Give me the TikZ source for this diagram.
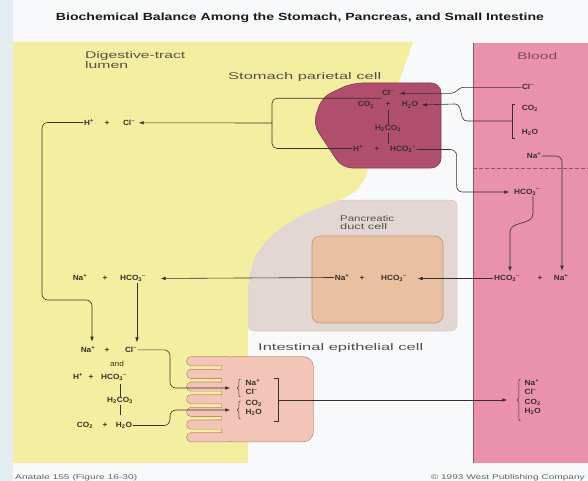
\documentclass[tikz,border=0pt]{standalone}
\usepackage{graphicx}
\usepackage{fontspec}
\setmainfont{Liberation Sans}
\newfontfamily\chemf[FakeStretch=1.1]{Liberation Sans}
\usetikzlibrary{arrows.meta}
\definecolor{bgwhite}{RGB}{248,249,250}
\definecolor{leftstrip}{RGB}{228,238,242}
\definecolor{lumen}{RGB}{244,238,160}
\definecolor{blood}{RGB}{234,146,172}
\definecolor{bloodedge}{RGB}{150,80,100}
\definecolor{parietal}{RGB}{176,78,110}
\definecolor{parietaledge}{RGB}{140,55,85}
\definecolor{pancout}{RGB}{226,215,210}
\definecolor{pancin}{RGB}{233,192,162}
\definecolor{pancedge}{RGB}{190,150,120}
\definecolor{intest}{RGB}{243,196,184}
\definecolor{intestedge}{RGB}{185,135,105}
\definecolor{ink}{RGB}{55,48,40}
\definecolor{labelgrey}{RGB}{85,80,70}
\definecolor{footgrey}{RGB}{100,100,100}
\newcommand{\ionp}{\textsuperscript{+}}
\newcommand{\ionm}{\textsuperscript{\textendash}}
\newcommand{\chs}[1]{\textsubscript{#1}}
\newcommand{\fitto}[3]{\resizebox{#1}{#2}{#3}}
\newcommand{\curlyb}[3]{%
  \draw[brc] ({#1+2.5},#2) to[out=180,in=90] ++(-1.7,2) -- ++(0,{#3/2-3.5})
    to[out=-90,in=0] ++(-1.5,1.5) to[out=0,in=90] ++(1.5,1.5)
    -- ++(0,{#3/2-3.5}) to[out=-90,in=180] ++(1.7,2);}
\begin{document}
\begin{tikzpicture}[x=1pt,y=-1pt,
  chem/.style={font=\chemf\bfseries\fontsize{7.5}{8.5}\selectfont, text=ink, inner sep=0.5pt, anchor=base},
  chemw/.style={chem, anchor=base west},
  lbl/.style={inner sep=0pt, anchor=base west, text=labelgrey},
  flow/.style={draw=ink, line width=0.6pt},
  brc/.style={draw=ink, line width=0.5pt},
  arr/.style={flow, -{Latex[length=5pt,width=3.6pt]}}]
\useasboundingbox (0,0) rectangle (588,481);
% backgrounds
\fill[bgwhite] (0,0) rectangle (588,481);
\fill[leftstrip] (0,0) rectangle (13,481);
\filldraw[fill=pancout, draw=pancedge!50, line width=0.5pt, rounded corners=6pt] (248,200) rectangle (457,331);
\fill[lumen] (13,42) -- (413,42) -- (365,178) .. controls (356,196) and (342,199) .. (328,204)
  .. controls (295,216) and (262,236) .. (253,262) .. controls (249,274) and (248,284) .. (248,296)
  -- (248,463) -- (13,463) -- cycle;
\fill[blood] (473,43) rectangle (588,463);
\draw[bloodedge, line width=0.6pt] (473,43) -- (473,463);
\draw[bloodedge, line width=0.6pt, dash pattern=on 4pt off 2pt] (473,168) -- (588,168);
% stomach parietal cell
\filldraw[fill=parietal, draw=parietaledge, line width=0.6pt, rounded corners=10pt]
  (352,83) -- (441,83) -- (441,168) -- (342,168) -- (313,124) -- (322,97) -- cycle;
% pancreatic duct cell
\filldraw[fill=pancin, draw=pancedge, line width=0.6pt, rounded corners=8pt] (312,236) rectangle (443,323);
% intestinal epithelial cell (outline pass, then fill pass)
\foreach \c in {361.25,373.92,386.58,399.25,411.92,424.58,437.25}{
  \draw[intestedge, line width=1.3pt, rounded corners=4.2pt] (187,{\c-4.25}) rectangle (232,{\c+4.25});}
\draw[intestedge, line width=1.3pt, rounded corners=10pt] (222,357) rectangle (313,441.5);
\foreach \c in {361.25,373.92,386.58,399.25,411.92,424.58,437.25}{
  \fill[intest, rounded corners=4.2pt] (187,{\c-4.25}) rectangle (232,{\c+4.25});}
\fill[intest, rounded corners=10pt] (222,357) rectangle (313,441.5);
% labels
\node[anchor=base, inner sep=0pt, text={rgb,255:red,25;green,25;blue,25}] (title) at (300,20.5)
  {\fitto{488pt}{7.5pt}{\bfseries Biochemical Balance Among the Stomach, Pancreas, and Small Intestine}};
\node[lbl] (lumlbl1) at (85,59) {\fitto{100pt}{7pt}{Digestive-tract}};
\node[lbl] (lumlbl2) at (85,69) {\fitto{43pt}{7pt}{lumen}};
\node[lbl] (stomlbl) at (228,80) {\fitto{153pt}{7pt}{Stomach parietal cell}};
\node[lbl, text={rgb,255:red,120;green,80;blue,90}] (bloodlbl) at (517,60) {\fitto{40pt}{7pt}{Blood}};
\node[lbl] (panclbl1) at (340,221) {\fitto{54pt}{6pt}{Pancreatic}};
\node[lbl] (panclbl2) at (340,229.5) {\fitto{47pt}{6pt}{duct cell}};
\node[lbl] (intlbl) at (258,350) {\fitto{165pt}{7pt}{Intestinal epithelial cell}};
\node[lbl, text=footgrey] (foot1) at (15,479) {\fitto{122pt}{5pt}{Anatale 155 (Figure 16-30)}};
\node[lbl, anchor=base east, text=footgrey] (foot2) at (585,479) {\fitto{154pt}{5pt}{© 1993 West Publishing Company}};
% blood column
\node[chem] (bCl) at (528,90) {Cl\ionm};
\node[chem] (bCO2) at (530,110.5) {CO\chs{2}};
\node[chem] (bH2O) at (530,134.5) {H\chs{2}O};
\node[chem] (bNa) at (534,159) {Na\ionp};
\node[chem] (bHCO) at (527,194) {HCO\chs{3}\ionm};
\node[chem] (rHCO) at (507,280.5) {HCO\chs{3}\ionm};
\node[chem] (rplus) at (540,280.5) {+};
\node[chem] (rNa) at (561,280.5) {Na\ionp};
% stomach cell contents
\node[chem] (sCl) at (388,96) {Cl\ionm};
\node[chem] (sCO2) at (366,107) {CO\chs{2}};
\node[chem] (splus1) at (388,107) {+};
\node[chem] (sH2O) at (410,107) {H\chs{2}O};
\node[chem] (sH2CO3) at (388,130.5) {H\chs{2}CO\chs{3}};
\node[chem] (sH) at (358,151.5) {H\ionp};
\node[chem] (splus2) at (377,151.5) {+};
\node[chem] (sHCO) at (403,151.5) {HCO\chs{3}\ionm};
\draw[flow, line width=0.4pt] (388,110.5) -- (sH2CO3.north);
\draw[flow, line width=0.4pt] (sH2CO3.south) -- (388,144);
% lumen contents
\node[chem] (lH) at (89,125.5) {H\ionp};
\node[chem] (lplus) at (107,125.5) {+};
\node[chem] (lCl) at (129,125.5) {Cl\ionm};
\node[chem] (mNa) at (80,280.5) {Na\ionp};
\node[chem] (mplus) at (105,280.5) {+};
\node[chem] (mHCO) at (133,280.5) {HCO\chs{3}\ionm};
\node[chem] (nNa) at (88,352.5) {Na\ionp};
\node[chem] (nplus) at (107,352.5) {+};
\node[chem] (nCl) at (131,352.5) {Cl\ionm};
\node[chem, font=\chemf\fontsize{7.5}{8.5}\selectfont] (andw) at (117,366) {and};
\node[chem] (oH) at (78,379.5) {H\ionp};
\node[chem] (oplus) at (91,379.5) {+};
\node[chem] (oHCO) at (114,379.5) {HCO\chs{3}\ionm};
\node[chem] (oH2CO3) at (120,402.5) {H\chs{2}CO\chs{3}};
\node[chem] (pCO2) at (85,427.5) {CO\chs{2}};
\node[chem] (pplus) at (105,427.5) {+};
\node[chem] (pH2O) at (124,427.5) {H\chs{2}O};
\draw[flow, line width=0.4pt] (120,383.5) -- (oH2CO3.north);
\draw[flow, line width=0.4pt] (oH2CO3.south) -- (120,415);
% pancreatic duct cell contents
\node[chem] (kNa) at (342,280.5) {Na\ionp};
\node[chem] (kplus) at (362,280.5) {+};
\node[chem] (kHCO) at (394,280.5) {HCO\chs{3}\ionm};
% intestinal cell contents
\node[chemw] (iNa) at (245,385.5) {Na\ionp};
\node[chemw] (iCl) at (245,394.5) {Cl\ionm};
\node[chemw] (iCO2) at (245,405) {CO\chs{2}};
\node[chemw] (iH2O) at (245,414.5) {H\chs{2}O};
\curlyb{238}{379}{18}
\curlyb{238}{401}{18}
\coordinate (brace1) at (237.3,388);
\coordinate (brace2) at (237.3,410);
\draw[brc] (274,378) -- (278,378) -- (278,421) -- (274,421);
\coordinate (ibr) at (278,400);
% blood lower
\node[chemw] (qNa) at (524,385.5) {Na\ionp};
\node[chemw] (qCl) at (524,394.5) {Cl\ionm};
\node[chemw] (qCO2) at (524,404.5) {CO\chs{2}};
\node[chemw] (qH2O) at (524,413.5) {H\chs{2}O};
\curlyb{518}{379}{42}
\coordinate (bbr) at (517.3,400);
% blood bracket CO2/H2O
\draw[brc] (515,104) -- (512,104) -- (512,138) -- (515,138);
\coordinate (bbr1) at (512,121);
% stomach lumen bracket
\coordinate (brk2) at (272,123);
% connectors
\draw[arr, shorten >=5pt] (bCl.west) -- ++(-58,0) to[out=180,in=0] ++(-12,6) -- (sCl.east);
\draw[arr, shorten >=3pt] (bbr1) -- ++(-45,0) to[out=180,in=0] ++(-12,-17) -- (sH2O.east);
\draw[arr, rounded corners=6pt, shorten >=4pt] (sHCO.east) -- ++(40,0) |- (bHCO.west);
\draw[flow, rounded corners=5pt] ([yshift=-1.5pt]sCl.south west) -| (brk2) |- (sH.west);
\draw[arr, shorten >=3pt] (brk2) -- (lCl.east);
\draw[arr, rounded corners=6pt, shorten >=4pt] (lH.west) -| (42,300) -| ([xshift=4pt]nNa.north);
\draw[arr, shorten >=4pt] ([xshift=4pt]mHCO.south) -- ([xshift=6pt]nCl.north);
\draw[arr, shorten >=14pt] (kNa.west) -- (mHCO.east);
\draw[arr, shorten >=10pt] (rHCO.west) -- (kHCO.east);
\draw[arr, shorten >=3pt] ([xshift=6pt]bHCO.south) -- ++(0,18) to[out=-90,in=90] ++(-23,18) -- ([xshift=3pt]rHCO.north);
\draw[arr, rounded corners=6pt, shorten >=3pt] (bNa.east) -| ([xshift=1pt]rNa.north);
\draw[arr, rounded corners=6pt, shorten >=7pt] (nCl.east) -| (170,388) -- (brace1);
\draw[arr, rounded corners=6pt, shorten >=7pt] (pH2O.east) -| (170,410) -- (brace2);
\draw[arr, shorten >=10pt] (ibr) -- (bbr);
\end{tikzpicture}
\end{document}
